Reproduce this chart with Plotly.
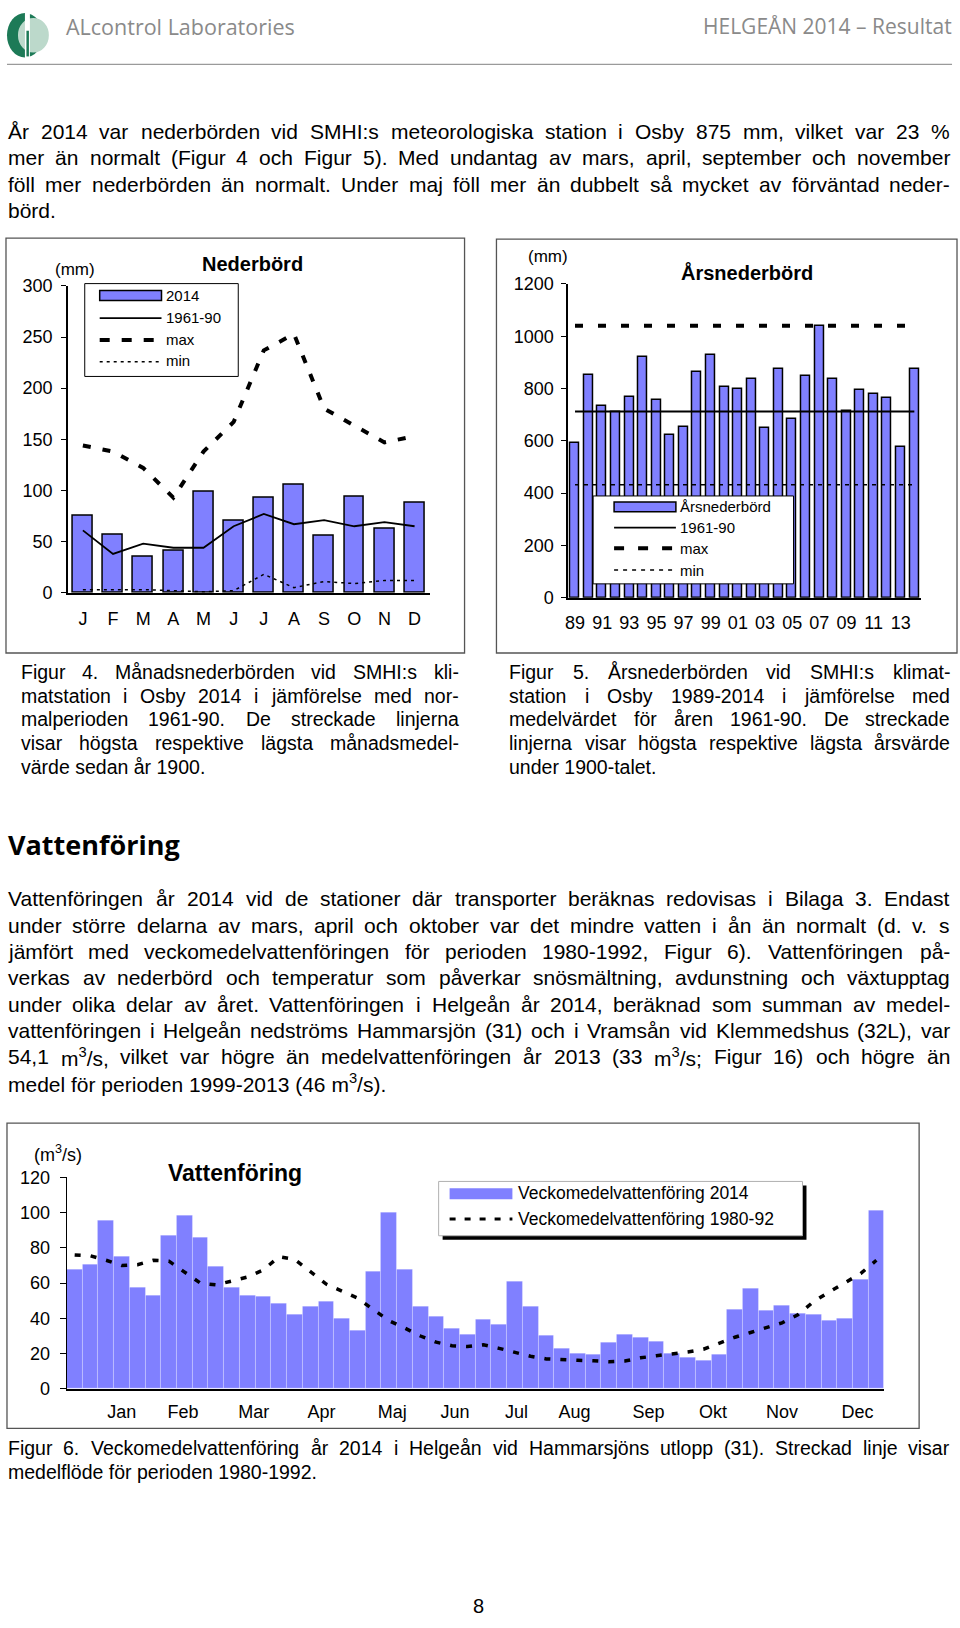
import re
import plotly.graph_objects as go

W, H = 960, 1628

# ---------------- data ----------------
months_short = ["J", "F", "M", "A", "M", "J", "J", "A", "S", "O", "N", "D"]
precip_2014 = [75, 57, 35, 41, 99, 70, 93, 105, 56, 94, 62, 88]
precip_1961_90 = [61, 38, 48, 44, 44, 65, 77, 67, 71, 65, 69, 65]
precip_max = [144, 138, 122, 93, 138, 167, 237, 253, 180, 163, 147, 153]
precip_min = [3, 3, 3, 2, 1, 2, 18, 5, 11, 9, 12, 12]

years = list(range(1989, 2015))
annual_precip = [592, 853, 733, 710, 768, 919, 758, 623, 652, 863, 929, 808, 800,
                 838, 649, 875, 683, 850, 1040, 835, 715, 793, 781, 764, 577, 875]
annual_normal = 712
annual_max = 1040
annual_min = 432
year_tickvals = list(range(1989, 2014, 2))
year_ticktext = ["89", "91", "93", "95", "97", "99", "01", "03", "05", "07", "09", "11", "13"]

weeks = list(range(1, 53))
flow_2014 = [68, 70.5, 95.5, 75, 57.8, 53, 87, 98.7, 86, 69.7, 57.7, 52.9, 52.2, 48.3,
             42, 46.8, 49.8, 39.7, 33.4, 66.4, 100, 68, 46.8, 41.2, 34.2, 31.1, 39.6,
             36.5, 61, 47, 30.5, 23.2, 20.2, 19.4, 26.4, 31, 29.2, 27.1, 20.2, 17.8,
             16.3, 19.4, 45.2, 57, 44.5, 47.5, 42.8, 42.2, 38.9, 39.8, 62, 101]
flow_1980_92 = [76, 75.5, 73, 70, 70.5, 73, 72.5, 66.5, 60, 59, 61.5, 63.5, 67.5, 75,
                73.5, 66.5, 59.5, 55.5, 51.5, 45, 38.7, 34.5, 30, 26.5, 24.5, 24, 25,
                23, 20.5, 18.5, 17, 16.4, 16.2, 15.9, 15.4, 15.8, 17.6, 18.8, 19.8,
                20.9, 22.5, 26, 29.3, 32, 35, 37.5, 42, 49.5, 55, 60, 65.5, 73]
month_names = ["Jan", "Feb", "Mar", "Apr", "Maj", "Jun", "Jul", "Aug", "Sep", "Okt", "Nov", "Dec"]
month_label_week = [4.0, 7.9, 12.4, 16.7, 21.2, 25.2, 29.1, 32.8, 37.5, 41.6, 46.0, 50.8]

para1 = [
    "År 2014 var nederbörden vid SMHI:s meteorologiska station i Osby 875 mm, vilket var 23 %",
    "mer än normalt (Figur 4 och Figur 5). Med undantag av mars, april, september och november",
    "föll mer nederbörden än normalt. Under maj föll mer än dubbelt så mycket av förväntad neder-",
    "börd.",
]
caption4 = [
    "Figur 4. Månadsnederbörden vid SMHI:s kli-",
    "matstation i Osby 2014 i jämförelse med nor-",
    "malperioden 1961-90. De streckade linjerna",
    "visar högsta respektive lägsta månadsmedel-",
    "värde sedan år 1900.",
]
caption5 = [
    "Figur 5. Årsnederbörden vid SMHI:s klimat-",
    "station i Osby 1989-2014 i jämförelse med",
    "medelvärdet för åren 1961-90. De streckade",
    "linjerna visar högsta respektive lägsta årsvärde",
    "under 1900-talet.",
]
para2 = [
    "Vattenföringen år 2014 vid de stationer där transporter beräknas redovisas i Bilaga 3. Endast",
    "under större delarna av mars, april och oktober var det mindre vatten i ån än normalt (d. v. s",
    "jämfört med veckomedelvattenföringen för perioden 1980-1992, Figur 6). Vattenföringen på-",
    "verkas av nederbörd och temperatur som påverkar snösmältning, avdunstning och växtupptag",
    "under olika delar av året. Vattenföringen i Helgeån år 2014, beräknad som summan av medel-",
    "vattenföringen i Helgeån nedströms Hammarsjön (31) och i Vramsån vid Klemmedshus (32L), var",
    "54,1 m<sup>3</sup>/s, vilket var högre än medelvattenföringen år 2013 (33 m<sup>3</sup>/s; Figur 16) och högre än",
    "medel för perioden 1999-2013 (46 m<sup>3</sup>/s).",
]
caption6 = [
    "Figur 6. Veckomedelvattenföring år 2014 i Helgeån vid Hammarsjöns utlopp (31). Streckad linje visar",
    "medelflöde för perioden 1980-1992.",
]

# ---------------- helpers ----------------
ARIAL = "Liberation Sans, Arial, Helvetica, sans-serif"
HEADF = "Open Sans, Lato, sans-serif"
BAR_BLUE = "#8080ff"


def fx(x):
    return x / W


def fy(y):
    return 1 - y / H


annotations = []
shapes = []


def add_text(x, y, text, size, family=ARIAL, color="black", xanchor="left", yanchor="middle"):
    annotations.append(dict(
        x=fx(x), y=fy(y), xref="paper", yref="paper", text=text, showarrow=False,
        xanchor=xanchor, yanchor=yanchor, borderpad=0, borderwidth=0,
        font=dict(size=size, family=family, color=color)))


def rect(x0, y0, x1, y1, color="black", width=1, fill="rgba(0,0,0,0)", layer="above"):
    shapes.append(dict(type="rect", xref="paper", yref="paper", x0=fx(x0), x1=fx(x1),
                       y0=fy(y0), y1=fy(y1), line=dict(color=color, width=width),
                       fillcolor=fill, layer=layer))


def seg(x0, y0, x1, y1, color="black", width=1, dash="solid", layer="above"):
    shapes.append(dict(type="line", xref="paper", yref="paper", x0=fx(x0), x1=fx(x1),
                       y0=fy(y0), y1=fy(y1), line=dict(color=color, width=width, dash=dash),
                       layer=layer))


def circ(x0, y0, x1, y1, fill):
    shapes.append(dict(type="circle", xref="paper", yref="paper", x0=fx(x0), x1=fx(x1),
                       y0=fy(y0), y1=fy(y1), line=dict(width=0), fillcolor=fill, layer="above"))


HELV = {" ": 278, "!": 278, "%": 889, "(": 333, ")": 333, ",": 278, "-": 333, ".": 278,
        "/": 278, ":": 278, ";": 278, "A": 667, "B": 667, "C": 722, "D": 722, "E": 667,
        "F": 611, "G": 778, "H": 722, "I": 278, "J": 500, "K": 667, "L": 556, "M": 833,
        "N": 722, "O": 778, "P": 667, "Q": 778, "R": 722, "S": 667, "T": 611, "U": 722,
        "V": 667, "W": 944, "X": 667, "Y": 667, "Z": 611, "a": 556, "b": 556, "c": 500,
        "d": 556, "e": 556, "f": 278, "g": 556, "h": 556, "i": 222, "j": 222, "k": 500,
        "l": 222, "m": 833, "n": 556, "o": 556, "p": 556, "q": 556, "r": 333, "s": 500,
        "t": 278, "u": 556, "v": 500, "w": 722, "x": 500, "y": 500, "z": 500, "å": 556,
        "ä": 556, "ö": 556, "Å": 667, "Ä": 667, "Ö": 778}


def text_w(s, size):
    s2 = re.sub(r"<sup>(.*?)</sup>", lambda m: "\x01" * len(m.group(1)), s)
    tot = 0
    for ch in s2:
        tot += 380 if ch == "\x01" else HELV.get(ch, 556)
    return tot / 1000 * size


def place_lines(lines, x0, x1, y0, dy, size, family=ARIAL):
    for i, line in enumerate(lines):
        y = y0 + i * dy
        if i == len(lines) - 1:
            add_text(x0, y, line, size, family)
            continue
        words = line.split(" ")
        ws = [text_w(w, size) for w in words]
        gap = (x1 - x0 - sum(ws)) / (len(words) - 1)
        x = x0
        for j, w in enumerate(words):
            if j == len(words) - 1:
                add_text(x1, y, w, size, family, xanchor="right")
            else:
                add_text(x, y, w, size, family)
            x += ws[j] + gap


# ---------------- header ----------------
circ(4, 3, 40, 48, "#1d7a57")
circ(15, 8, 46, 43, "#bcd9cb")
rect(22, 2, 27, 50, color="white", width=0, fill="white")
rect(23.5, 21, 26, 47, color="#1d7a57", width=0, fill="#1d7a57")
add_text(63, 17, "ALcontrol Laboratories", 21.5, HEADF, color="#8a8a8a")
add_text(952, 16, "HELGEÅN 2014 – Resultat", 21, HEADF, color="#8a8a8a", xanchor="right")
seg(4, 55, 952, 55, color="#9a9a9a", width=1.2)

# ---------------- body text ----------------
BODY_SIZE = 21
place_lines(para1, 5, 950, 123, 26.6, BODY_SIZE)
CAP_SIZE = 19.5
place_lines(caption4, 18, 457, 670.5, 23.9, CAP_SIZE)
place_lines(caption5, 508, 950, 670.5, 23.9, CAP_SIZE)
add_text(5, 845, "<b>Vattenföring</b>", 27, HEADF)
place_lines(para2, 5, 950, 900, 26.6, BODY_SIZE)
place_lines(caption6, 5, 950, 1456, 24, CAP_SIZE)
add_text(477, 1616, "8", 20, ARIAL, xanchor="center")

# ---------------- chart frames ----------------
rect(3, 231, 463, 651, color="#555555", width=1.3, layer="below")
rect(495, 232, 957, 651, color="#555555", width=1.3, layer="below")
rect(4, 1127, 919, 1436, color="#555555", width=1.3, layer="below")

# ---------------- figure ----------------
fig = go.Figure()

# Figure 4: monthly precipitation
fig.add_trace(go.Bar(x=list(range(12)), y=precip_2014, width=0.66, xaxis="x", yaxis="y",
                     marker=dict(color=BAR_BLUE, line=dict(color="black", width=1.5)),
                     showlegend=False))
fig.add_trace(go.Scatter(x=list(range(12)), y=precip_1961_90, mode="lines", xaxis="x", yaxis="y",
                         line=dict(color="black", width=1.8), showlegend=False))
fig.add_trace(go.Scatter(x=list(range(12)), y=precip_max, mode="lines", xaxis="x", yaxis="y",
                         line=dict(color="black", width=4, dash="8px,12px"), showlegend=False))
fig.add_trace(go.Scatter(x=list(range(12)), y=precip_min, mode="lines", xaxis="x", yaxis="y",
                         line=dict(color="black", width=1.5, dash="3px,4px"), showlegend=False))

# Figure 5: annual precipitation
fig.add_trace(go.Bar(x=years, y=annual_precip, width=0.66, xaxis="x2", yaxis="y2",
                     marker=dict(color=BAR_BLUE, line=dict(color="black", width=1.5)),
                     showlegend=False))
fig.add_trace(go.Scatter(x=years, y=[annual_normal] * len(years), mode="lines", xaxis="x2", yaxis="y2",
                         line=dict(color="black", width=1.8), showlegend=False))
fig.add_trace(go.Scatter(x=years, y=[annual_max] * len(years), mode="lines", xaxis="x2", yaxis="y2",
                         line=dict(color="black", width=4, dash="8px,15px"), showlegend=False))
fig.add_trace(go.Scatter(x=years, y=[annual_min] * len(years), mode="lines", xaxis="x2", yaxis="y2",
                         line=dict(color="black", width=1.5, dash="4px,5px"), showlegend=False))

# Figure 6: weekly flow
fig.add_trace(go.Bar(x=weeks, y=flow_2014, width=1.0, xaxis="x3", yaxis="y3",
                     marker=dict(color=BAR_BLUE, line=dict(color="rgba(255,255,255,0.35)", width=0.7)),
                     showlegend=False))
fig.add_trace(go.Scatter(x=weeks, y=flow_1980_92, mode="lines", xaxis="x3", yaxis="y3",
                         line=dict(color="black", width=3.5, dash="6px,10px"), showlegend=False))

axis_common = dict(showgrid=False, zeroline=False, showline=True, linecolor="black",
                   tickcolor="black", tickfont=dict(family=ARIAL, size=18, color="black"))

fig.update_layout(
    width=W, height=H, autosize=False,
    margin=dict(l=0, r=0, t=0, b=0),
    paper_bgcolor="white", plot_bgcolor="rgba(0,0,0,0)",
    bargap=0,
    xaxis=dict(domain=[fx(65), fx(428)], range=[-0.5, 11.5], anchor="y",
               tickvals=list(range(12)), ticktext=months_short, ticks="",
               ticklabelstandoff=9, linewidth=1.5, **axis_common),
    yaxis=dict(domain=[fy(590), fy(279.3)], range=[0, 300], anchor="x",
               tickvals=list(range(0, 301, 50)), ticks="outside", ticklen=5,
               ticklabelstandoff=5, linewidth=1.5, **axis_common),
    xaxis2=dict(domain=[fx(567), fx(921)], range=[1988.5, 2014.5], anchor="y2",
                tickvals=year_tickvals, ticktext=year_ticktext, ticks="",
                ticklabelstandoff=8, linewidth=1.5, **axis_common),
    yaxis2=dict(domain=[fy(595), fy(277.3)], range=[0, 1200], anchor="x2",
                tickvals=list(range(0, 1201, 200)), ticks="outside", ticklen=5,
                ticklabelstandoff=4, linewidth=1.5, **axis_common),
    xaxis3=dict(domain=[fx(64), fx(884)], range=[0.5, 52.5], anchor="y3",
                tickvals=month_label_week, ticktext=month_names, ticks="",
                ticklabelstandoff=6, linewidth=2, **axis_common),
    yaxis3=dict(domain=[fy(1396), fy(1182)], range=[0, 120], anchor="x3",
                tickvals=list(range(0, 121, 20)), ticks="outside", ticklen=6,
                ticklabelstandoff=6, linewidth=1.2, **axis_common),
)

# ---------------- chart titles / units ----------------
add_text(250, 257, "<b>Nederbörd</b>", 20, ARIAL, xanchor="center")
add_text(72, 263, "(mm)", 17, ARIAL, xanchor="center")
add_text(547, 250, "(mm)", 17, ARIAL, xanchor="center")
add_text(746, 266, "<b>Årsnederbörd</b>", 20, ARIAL, xanchor="center")
add_text(55, 1158, "(m<sup>3</sup>/s)", 18, ARIAL, xanchor="center")
add_text(233, 1177, "<b>Vattenföring</b>", 23, ARIAL, xanchor="center")

# ---------------- legends ----------------
# Figure 4 legend
rect(82, 277, 236, 371, color="black", width=1, fill="white")
rect(97, 284, 159, 294, color="black", width=1.5, fill=BAR_BLUE)
seg(97, 312, 159, 312, width=1.8)
seg(97, 334, 159, 334, width=4, dash="10px,12px")
seg(97, 356, 159, 356, width=1.5, dash="3px,4px")
for yy, t in [(289, "2014"), (311, "1961-90"), (334, "max"), (355, "min")]:
    add_text(164, yy, t, 15, ARIAL)

# Figure 5 legend
rect(592, 492, 793, 581, color="black", width=1, fill="white")
rect(613, 498, 675, 508, color="black", width=1.5, fill=BAR_BLUE)
seg(613, 524, 675, 524, width=1.8)
seg(613, 545, 675, 545, width=4, dash="10px,14px")
seg(613, 567, 675, 567, width=1.5, dash="4px,5px")
for yy, t in [(503, "Årsnederbörd"), (524, "1961-90"), (545, "max"), (567, "min")]:
    add_text(679, yy, t, 15, ARIAL)

# Figure 6 legend
rect(441, 1190, 806, 1245, color="black", width=0, fill="black")
rect(437, 1186, 802, 1241, color="#b0b0b0", width=1, fill="white")
rect(448, 1193, 511, 1204, color=BAR_BLUE, width=0, fill=BAR_BLUE)
seg(448, 1224, 511, 1224, width=3, dash="6px,9px")
add_text(517, 1198, "Veckomedelvattenföring 2014", 17.5, ARIAL)
add_text(517, 1224, "Veckomedelvattenföring 1980-92", 17.5, ARIAL)

fig.update_layout(annotations=annotations, shapes=shapes)
fig.write_html(
    "out.html",
    config={"displayModeBar": False},
    post_script="document.body.style.margin='0';document.documentElement.style.overflow='hidden';",
)
